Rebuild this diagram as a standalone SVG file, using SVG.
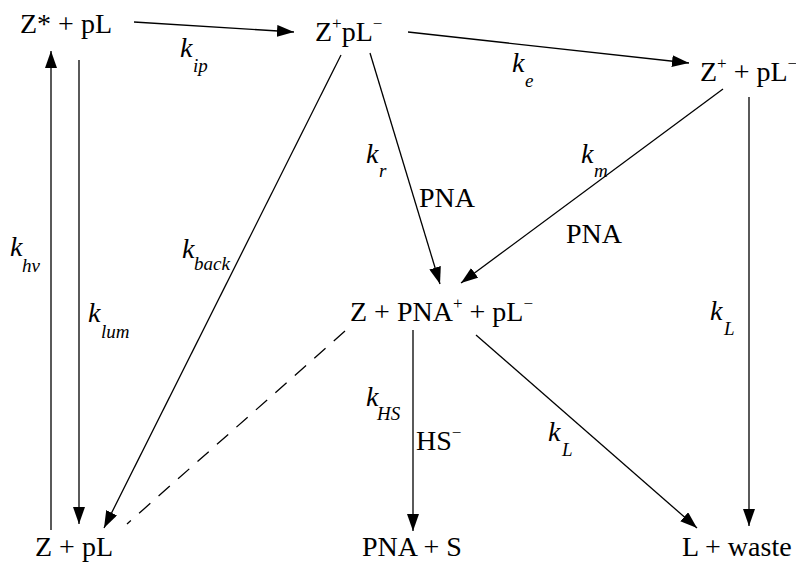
<svg xmlns="http://www.w3.org/2000/svg" width="796" height="566" viewBox="0 0 796 566">
<style>
text{font-family:"Liberation Serif","Times New Roman",serif;font-size:28px;fill:#000}
.k{font-style:italic;font-size:28px}
.s{font-style:italic;font-size:19px}
.sup{font-size:17px}
line{stroke:#000;stroke-width:1.3;fill:none}
.a{marker-end:url(#ah)}
.d{stroke-dasharray:15,11}
</style>
<defs>
<marker id="ah" markerUnits="userSpaceOnUse" markerWidth="17" markerHeight="12" viewBox="0 0 17 12" refX="17" refY="6" orient="auto">
<path d="M0,0 L17,6 L0,12 Z" fill="#000"/>
</marker>
</defs>
<rect width="796" height="566" fill="#fff"/>
<g id="connectors">
<line class="a" x1="134" y1="22" x2="294" y2="32"/>
<line class="a" x1="408" y1="32" x2="689" y2="63"/>
<line class="a" x1="51" y1="530" x2="51" y2="51"/>
<line class="a" x1="79" y1="60" x2="79" y2="524"/>
<line class="a" x1="341" y1="55" x2="104" y2="528"/>
<line class="a" x1="370" y1="53" x2="440" y2="284"/>
<line class="a" x1="723" y1="89" x2="461" y2="283"/>
<line class="a" x1="749" y1="97" x2="749" y2="526"/>
<line class="a" x1="413" y1="330" x2="413" y2="531"/>
<line class="a" x1="476" y1="335" x2="697" y2="528"/>
<line class="d" x1="345" y1="331" x2="127" y2="524"/>
</g>
<g id="labels">
<text x="180" y="57" class="k">k</text><text x="193" y="72" class="s">ip</text>
<text x="512" y="72" class="k">k</text><text x="525" y="87" class="s">e</text>
<text x="10" y="256" class="k">k</text><text x="22" y="272" class="s">hv</text>
<text x="88" y="322" class="k">k</text><text x="101" y="338" class="s">lum</text>
<text x="182" y="258" class="k">k</text><text x="194" y="270" class="s">back</text>
<text x="366" y="163" class="k">k</text><text x="379" y="177" class="s">r</text>
<text x="419" y="207">PNA</text>
<text x="581" y="163" class="k">k</text><text x="594" y="177" class="s">m</text>
<text x="566" y="243">PNA</text>
<text x="710" y="320" class="k">k</text><text x="724" y="335" class="s">L</text>
<text x="366" y="406" class="k">k</text><text x="377" y="420" class="s">HS</text>
<text x="416" y="450">HS<tspan class="sup" dy="-12">−</tspan></text>
<text x="548" y="441" class="k">k</text><text x="562" y="456" class="s">L</text>
</g>
<g id="n-zstar"><text x="20" y="33">Z* + pL</text></g>
<g id="n-zpl-pair"><text x="315" y="41">Z<tspan class="sup" dy="-12">+</tspan><tspan dy="12">pL</tspan><tspan class="sup" dy="-12">−</tspan></text></g>
<g id="n-zplus"><text x="700" y="81">Z<tspan class="sup" dy="-12">+</tspan><tspan dy="12"> + pL</tspan><tspan class="sup" dy="-12">−</tspan></text></g>
<g id="n-zpna"><text x="350" y="321">Z + PNA<tspan class="sup" dy="-12">+</tspan><tspan dy="12"> + pL</tspan><tspan class="sup" dy="-12">−</tspan></text></g>
<g id="n-zpl"><text x="35" y="556">Z + pL</text></g>
<g id="n-pnas"><text x="362" y="556">PNA + S</text></g>
<g id="n-lwaste"><text x="682" y="556">L + waste</text></g>
</svg>
